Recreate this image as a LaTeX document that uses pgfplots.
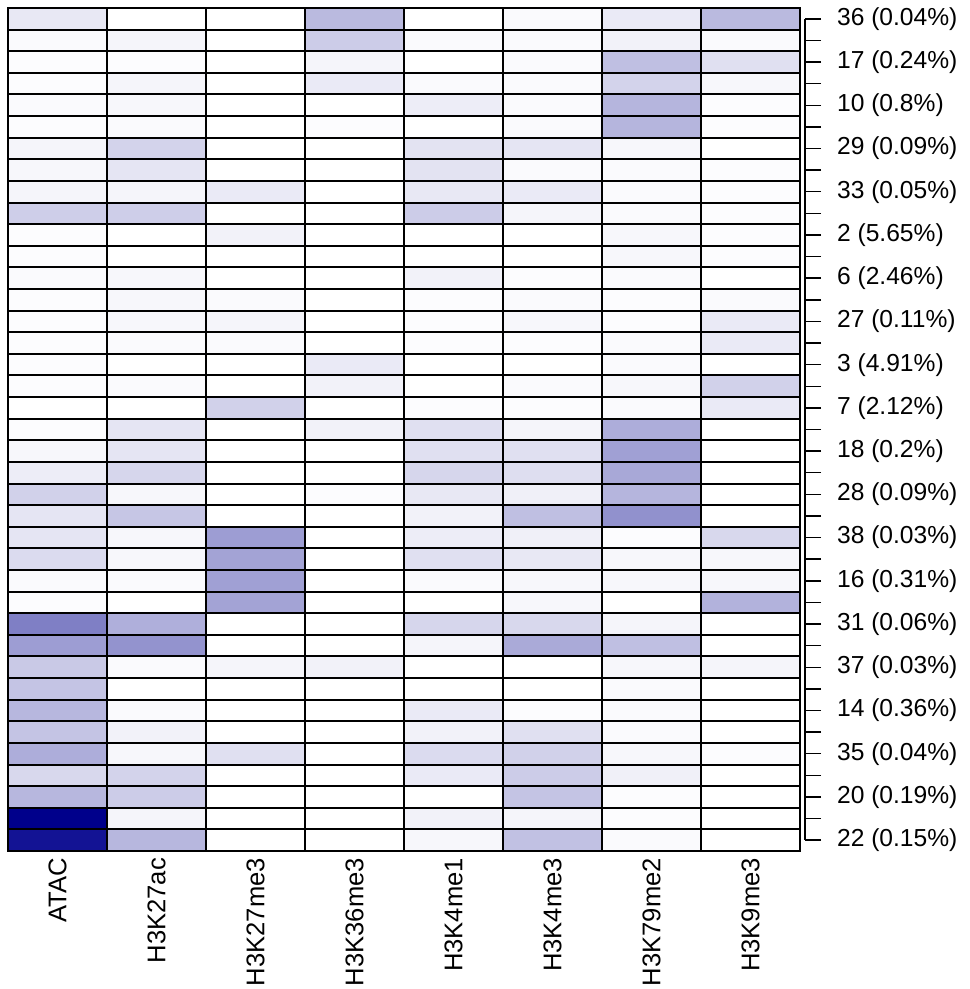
\documentclass[border=0pt]{standalone}
\usepackage{pgfplots}
\pgfplotsset{compat=1.18}
\usepackage{fontspec}
\setmainfont{Liberation Sans}

% white -> dark blue signal scale
\pgfplotsset{colormap={whiteblue}{rgb255=(255,255,255) rgb255=(0,0,139)}}

\begin{document}
\begin{tikzpicture}
\pgfmathsetmacro{\rowh}{421.5/39}
\begin{axis}[
  at={(0pt,0pt)}, anchor=south west,
  width=396pt, height=421.5pt, scale only axis,
  xmin=0.5, xmax=8.5, ymin=0.5, ymax=39.5,
  y dir=reverse,
  colormap name=whiteblue,
  point meta min=0, point meta max=1,
  xtick={1,...,8},
  xticklabels={ATAC,H3K27ac,H3K27me3,H3K36me3,H3K4me1,H3K4me3,H3K79me2,H3K9me3},
  x tick label style={rotate=90, anchor=east, font=\fontsize{12.8}{15}\selectfont},
  xtick pos=bottom,
  ytick={0.5,1.5,...,39.5},
  yticklabels={},
  ymajorgrids,
  major grid style={black, line width=1pt},
  minor xtick={0.5,1.5,...,8.5},
  xminorgrids,
  minor grid style={black, line width=0.65pt},
  major tick length=0pt, minor tick length=0pt,
  axis line style={black, line width=0.9pt},
  axis on top,
  /pgf/number format/assume math mode=true,
]
\addplot[matrix plot*, mesh/cols=8, point meta=explicit]
  table[row sep=\\, meta=c] {
x y c\\
1 1 0.09\\ 2 1 0\\ 3 1 0\\ 4 1 0.27\\ 5 1 0\\ 6 1 0.02\\ 7 1 0.08\\ 8 1 0.27\\
1 2 0.02\\ 2 2 0.04\\ 3 2 0\\ 4 2 0.20\\ 5 2 0.02\\ 6 2 0.02\\ 7 2 0.05\\ 8 2 0.02\\
1 3 0.01\\ 2 3 0.01\\ 3 3 0\\ 4 3 0.04\\ 5 3 0\\ 6 3 0.02\\ 7 3 0.25\\ 8 3 0.12\\
1 4 0.01\\ 2 4 0.04\\ 3 4 0\\ 4 4 0.08\\ 5 4 0.02\\ 6 4 0.02\\ 7 4 0.17\\ 8 4 0.03\\
1 5 0.02\\ 2 5 0.03\\ 3 5 0\\ 4 5 0\\ 5 5 0.07\\ 6 5 0.02\\ 7 5 0.29\\ 8 5 0.01\\
1 6 0.01\\ 2 6 0.02\\ 3 6 0\\ 4 6 0.01\\ 5 6 0\\ 6 6 0.02\\ 7 6 0.29\\ 8 6 0.01\\
1 7 0.04\\ 2 7 0.17\\ 3 7 0\\ 4 7 0\\ 5 7 0.11\\ 6 7 0.10\\ 7 7 0.03\\ 8 7 0\\
1 8 0.03\\ 2 8 0.10\\ 3 8 0\\ 4 8 0\\ 5 8 0.11\\ 6 8 0.02\\ 7 8 0.02\\ 8 8 0.01\\
1 9 0.04\\ 2 9 0.04\\ 3 9 0.08\\ 4 9 0\\ 5 9 0.09\\ 6 9 0.08\\ 7 9 0.02\\ 8 9 0.01\\
1 10 0.19\\ 2 10 0.19\\ 3 10 0\\ 4 10 0\\ 5 10 0.20\\ 6 10 0.04\\ 7 10 0.02\\ 8 10 0.01\\
1 11 0.01\\ 2 11 0\\ 3 11 0.05\\ 4 11 0\\ 5 11 0\\ 6 11 0\\ 7 11 0.03\\ 8 11 0.01\\
1 12 0.01\\ 2 12 0\\ 3 12 0\\ 4 12 0\\ 5 12 0\\ 6 12 0\\ 7 12 0.03\\ 8 12 0.01\\
1 13 0.02\\ 2 13 0.03\\ 3 13 0\\ 4 13 0\\ 5 13 0.05\\ 6 13 0.01\\ 7 13 0.02\\ 8 13 0\\
1 14 0.01\\ 2 14 0.03\\ 3 14 0.02\\ 4 14 0\\ 5 14 0.01\\ 6 14 0.02\\ 7 14 0.01\\ 8 14 0.02\\
1 15 0.01\\ 2 15 0.03\\ 3 15 0.04\\ 4 15 0\\ 5 15 0.01\\ 6 15 0.03\\ 7 15 0.01\\ 8 15 0.08\\
1 16 0.01\\ 2 16 0.02\\ 3 16 0.02\\ 4 16 0\\ 5 16 0.01\\ 6 16 0.01\\ 7 16 0.02\\ 8 16 0.08\\
1 17 0.01\\ 2 17 0\\ 3 17 0\\ 4 17 0.08\\ 5 17 0\\ 6 17 0\\ 7 17 0.02\\ 8 17 0\\
1 18 0.01\\ 2 18 0.02\\ 3 18 0\\ 4 18 0.05\\ 5 18 0\\ 6 18 0.02\\ 7 18 0.03\\ 8 18 0.18\\
1 19 0\\ 2 19 0\\ 3 19 0.18\\ 4 19 0\\ 5 19 0.01\\ 6 19 0.01\\ 7 19 0.02\\ 8 19 0.08\\
1 20 0.01\\ 2 20 0.10\\ 3 20 0\\ 4 20 0.05\\ 5 20 0.12\\ 6 20 0.04\\ 7 20 0.32\\ 8 20 0\\
1 21 0.03\\ 2 21 0.10\\ 3 21 0\\ 4 21 0\\ 5 21 0.12\\ 6 21 0.12\\ 7 21 0.37\\ 8 21 0\\
1 22 0.07\\ 2 22 0.16\\ 3 22 0\\ 4 22 0\\ 5 22 0.16\\ 6 22 0.13\\ 7 22 0.34\\ 8 22 0\\
1 23 0.18\\ 2 23 0.03\\ 3 23 0\\ 4 23 0.01\\ 5 23 0.09\\ 6 23 0.06\\ 7 23 0.29\\ 8 23 0\\
1 24 0.10\\ 2 24 0.22\\ 3 24 0\\ 4 24 0\\ 5 24 0.05\\ 6 24 0.25\\ 7 24 0.43\\ 8 24 0\\
1 25 0.10\\ 2 25 0.03\\ 3 25 0.38\\ 4 25 0\\ 5 25 0.07\\ 6 25 0.06\\ 7 25 0.01\\ 8 25 0.15\\
1 26 0.14\\ 2 26 0.03\\ 3 26 0.36\\ 4 26 0\\ 5 26 0.12\\ 6 26 0.09\\ 7 26 0.03\\ 8 26 0.03\\
1 27 0.02\\ 2 27 0.02\\ 3 27 0.37\\ 4 27 0\\ 5 27 0.02\\ 6 27 0.03\\ 7 27 0.03\\ 8 27 0.03\\
1 28 0.01\\ 2 28 0\\ 3 28 0.36\\ 4 28 0\\ 5 28 0\\ 6 28 0.03\\ 7 28 0\\ 8 28 0.30\\
1 29 0.50\\ 2 29 0.31\\ 3 29 0\\ 4 29 0\\ 5 29 0.16\\ 6 29 0.15\\ 7 29 0.04\\ 8 29 0\\
1 30 0.38\\ 2 30 0.42\\ 3 30 0\\ 4 30 0\\ 5 30 0.04\\ 6 30 0.33\\ 7 30 0.25\\ 8 30 0\\
1 31 0.21\\ 2 31 0.02\\ 3 31 0.04\\ 4 31 0.05\\ 5 31 0\\ 6 31 0\\ 7 31 0.03\\ 8 31 0.04\\
1 32 0.23\\ 2 32 0\\ 3 32 0\\ 4 32 0\\ 5 32 0\\ 6 32 0\\ 7 32 0.02\\ 8 32 0\\
1 33 0.28\\ 2 33 0.02\\ 3 33 0\\ 4 33 0\\ 5 33 0.08\\ 6 33 0.01\\ 7 33 0.02\\ 8 33 0\\
1 34 0.23\\ 2 34 0.05\\ 3 34 0\\ 4 34 0\\ 5 34 0.05\\ 6 34 0.12\\ 7 34 0.02\\ 8 34 0\\
1 35 0.32\\ 2 35 0.03\\ 3 35 0.12\\ 4 35 0\\ 5 35 0.14\\ 6 35 0.18\\ 7 35 0.03\\ 8 35 0.01\\
1 36 0.15\\ 2 36 0.17\\ 3 36 0\\ 4 36 0\\ 5 36 0.08\\ 6 36 0.20\\ 7 36 0.06\\ 8 36 0\\
1 37 0.28\\ 2 37 0.20\\ 3 37 0\\ 4 37 0\\ 5 37 0\\ 6 37 0.23\\ 7 37 0.01\\ 8 37 0\\
1 38 1.00\\ 2 38 0.04\\ 3 38 0\\ 4 38 0\\ 5 38 0.05\\ 6 38 0.04\\ 7 38 0.01\\ 8 38 0\\
1 39 0.92\\ 2 39 0.28\\ 3 39 0\\ 4 39 0\\ 5 39 0.03\\ 6 39 0.24\\ 7 39 0.02\\ 8 39 0\\
};
\end{axis}

% cluster labels on a separate right-hand axis spanning first to last row
\begin{axis}[
  at={(398.5pt,\rowh/2*1pt)}, anchor=south east,
  width=10pt, height=38*\rowh*1pt, scale only axis,
  xmin=0, xmax=1, ymin=1, ymax=39,
  y dir=reverse,
  hide x axis,
  axis y line*=right,
  ytick={1,...,39},
  yticklabels={36 (0.04\%),,17 (0.24\%),,10 (0.8\%),,29 (0.09\%),,33 (0.05\%),,2 (5.65\%),,6 (2.46\%),,27 (0.11\%),,3 (4.91\%),,7 (2.12\%),,18 (0.2\%),,28 (0.09\%),,38 (0.03\%),,16 (0.31\%),,31 (0.06\%),,37 (0.03\%),,14 (0.36\%),,35 (0.04\%),,20 (0.19\%),,22 (0.15\%)},
  y tick label style={font=\fontsize{12.3}{15}\selectfont, xshift=4.5pt},
  tick align=outside,
  major tick length=8pt,
  y axis line style={black, line width=0.75pt},
  ytick style={black, line width=0.75pt},
  /pgf/number format/assume math mode=true,
]
\addplot[draw=none] coordinates {(0,1) (0,39)};
\end{axis}

\pgfresetboundingbox
\path[use as bounding box] (-4pt,-69pt) rectangle (480.5pt,425.5pt);
\end{tikzpicture}
\end{document}
